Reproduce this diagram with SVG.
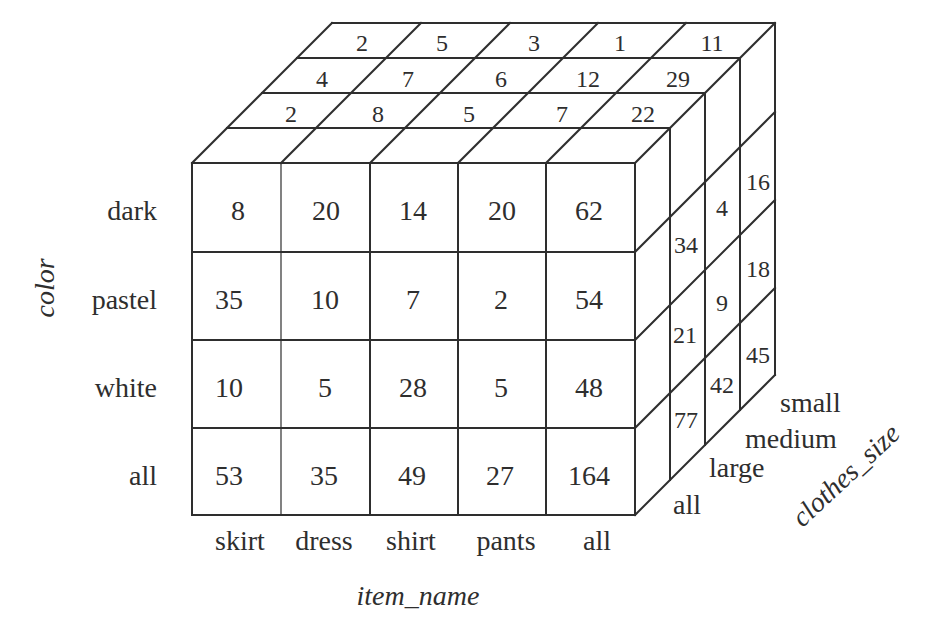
<svg xmlns="http://www.w3.org/2000/svg" width="930" height="618" viewBox="0 0 930 618">
<style>
.ln{stroke:#2e2e2e;stroke-width:2;fill:none;stroke-linecap:square}
.thin{stroke:#2e2e2e;stroke-width:1.2;fill:none}
text{font-family:"Liberation Serif","Times New Roman",serif;fill:#2e2e2e}
.big{font-size:28px;text-anchor:middle}
.sm{font-size:24px;text-anchor:middle}
.lab{font-size:28px}
.it{font-size:28px;font-style:italic}
</style>
<rect width="930" height="618" fill="#fff"/>
<g id="connectors">
<!-- front face -->
<g id="front-face-lines">
<rect class="ln" x="192" y="163" width="443" height="352"/>
<line class="thin" x1="281" y1="163" x2="281" y2="515"/>
<line class="ln" x1="370" y1="163" x2="370" y2="515"/>
<line class="ln" x1="458" y1="163" x2="458" y2="515"/>
<line class="ln" x1="546" y1="163" x2="546" y2="515"/>
<line class="ln" x1="192" y1="252" x2="635" y2="252"/>
<line class="ln" x1="192" y1="340" x2="635" y2="340"/>
<line class="ln" x1="192" y1="428" x2="635" y2="428"/>
</g>
<g id="top-face-lines">
<line class="ln" x1="227" y1="128" x2="670" y2="128"/>
<line class="ln" x1="262" y1="93" x2="705" y2="93"/>
<line class="ln" x1="297" y1="58" x2="740" y2="58"/>
<line class="ln" x1="332" y1="23" x2="775" y2="23"/>
<line class="ln" x1="192" y1="163" x2="332" y2="23"/>
<line class="ln" x1="281" y1="163" x2="421" y2="23"/>
<line class="ln" x1="370" y1="163" x2="510" y2="23"/>
<line class="ln" x1="458" y1="163" x2="598" y2="23"/>
<line class="ln" x1="546" y1="163" x2="686" y2="23"/>
<line class="ln" x1="635" y1="163" x2="775" y2="23"/>
</g>
<g id="right-face-lines">
<line class="ln" x1="670" y1="128" x2="670" y2="480"/>
<line class="ln" x1="705" y1="93" x2="705" y2="445"/>
<line class="ln" x1="740" y1="58" x2="740" y2="410"/>
<line class="ln" x1="775" y1="23" x2="775" y2="375"/>
<line class="ln" x1="635" y1="252" x2="775" y2="112"/>
<line class="ln" x1="635" y1="340" x2="775" y2="200"/>
<line class="ln" x1="635" y1="428" x2="775" y2="288"/>
<line class="ln" x1="635" y1="515" x2="775" y2="375"/>
</g>
</g>
<g id="front-values" class="big">
<text x="238" y="220">8</text><text x="326" y="220">20</text><text x="413" y="220">14</text><text x="502" y="220">20</text><text x="589" y="220">62</text>
<text x="229" y="309">35</text><text x="325" y="309">10</text><text x="413" y="309">7</text><text x="501" y="309">2</text><text x="589" y="309">54</text>
<text x="229" y="397">10</text><text x="325" y="397">5</text><text x="413" y="397">28</text><text x="501" y="397">5</text><text x="589" y="397">48</text>
<text x="229" y="485">53</text><text x="324" y="485">35</text><text x="412" y="485">49</text><text x="500" y="485">27</text><text x="589" y="485">164</text>
</g>
<g id="top-values" class="sm">
<text x="362" y="51">2</text><text x="442" y="51">5</text><text x="534" y="51">3</text><text x="620" y="51">1</text><text x="712" y="51">11</text>
<text x="322" y="87">4</text><text x="408" y="87">7</text><text x="501" y="87">6</text><text x="588" y="87">12</text><text x="678" y="87">29</text>
<text x="291" y="122">2</text><text x="378" y="122">8</text><text x="469" y="122">5</text><text x="562" y="122">7</text><text x="643" y="122">22</text>
</g>
<g id="right-values" class="sm">
<text x="686" y="253">34</text><text x="685" y="343">21</text><text x="686" y="428">77</text>
<text x="722" y="216">4</text><text x="722" y="311">9</text><text x="722" y="393">42</text>
<text x="758" y="190">16</text><text x="758" y="277">18</text><text x="758" y="363">45</text>
</g>
<g id="color-labels" class="lab" text-anchor="end">
<text x="157" y="220">dark</text>
<text x="157" y="309">pastel</text>
<text x="157" y="397">white</text>
<text x="157" y="485">all</text>
</g>
<g id="item-labels" class="lab" text-anchor="middle">
<text x="240" y="550">skirt</text>
<text x="324" y="550">dress</text>
<text x="411" y="550">shirt</text>
<text x="506" y="550">pants</text>
<text x="597" y="550">all</text>
</g>
<g id="size-labels" class="lab">
<text x="780" y="412">small</text>
<text x="745" y="448">medium</text>
<text x="709" y="477">large</text>
<text x="673" y="514">all</text>
</g>
<g id="axis-titles" class="it" text-anchor="middle">
<text x="418" y="605">item_name</text>
<text transform="translate(54 288) rotate(-90)">color</text>
<text transform="translate(852 482) rotate(-43)">clothes_size</text>
</g>
</svg>
